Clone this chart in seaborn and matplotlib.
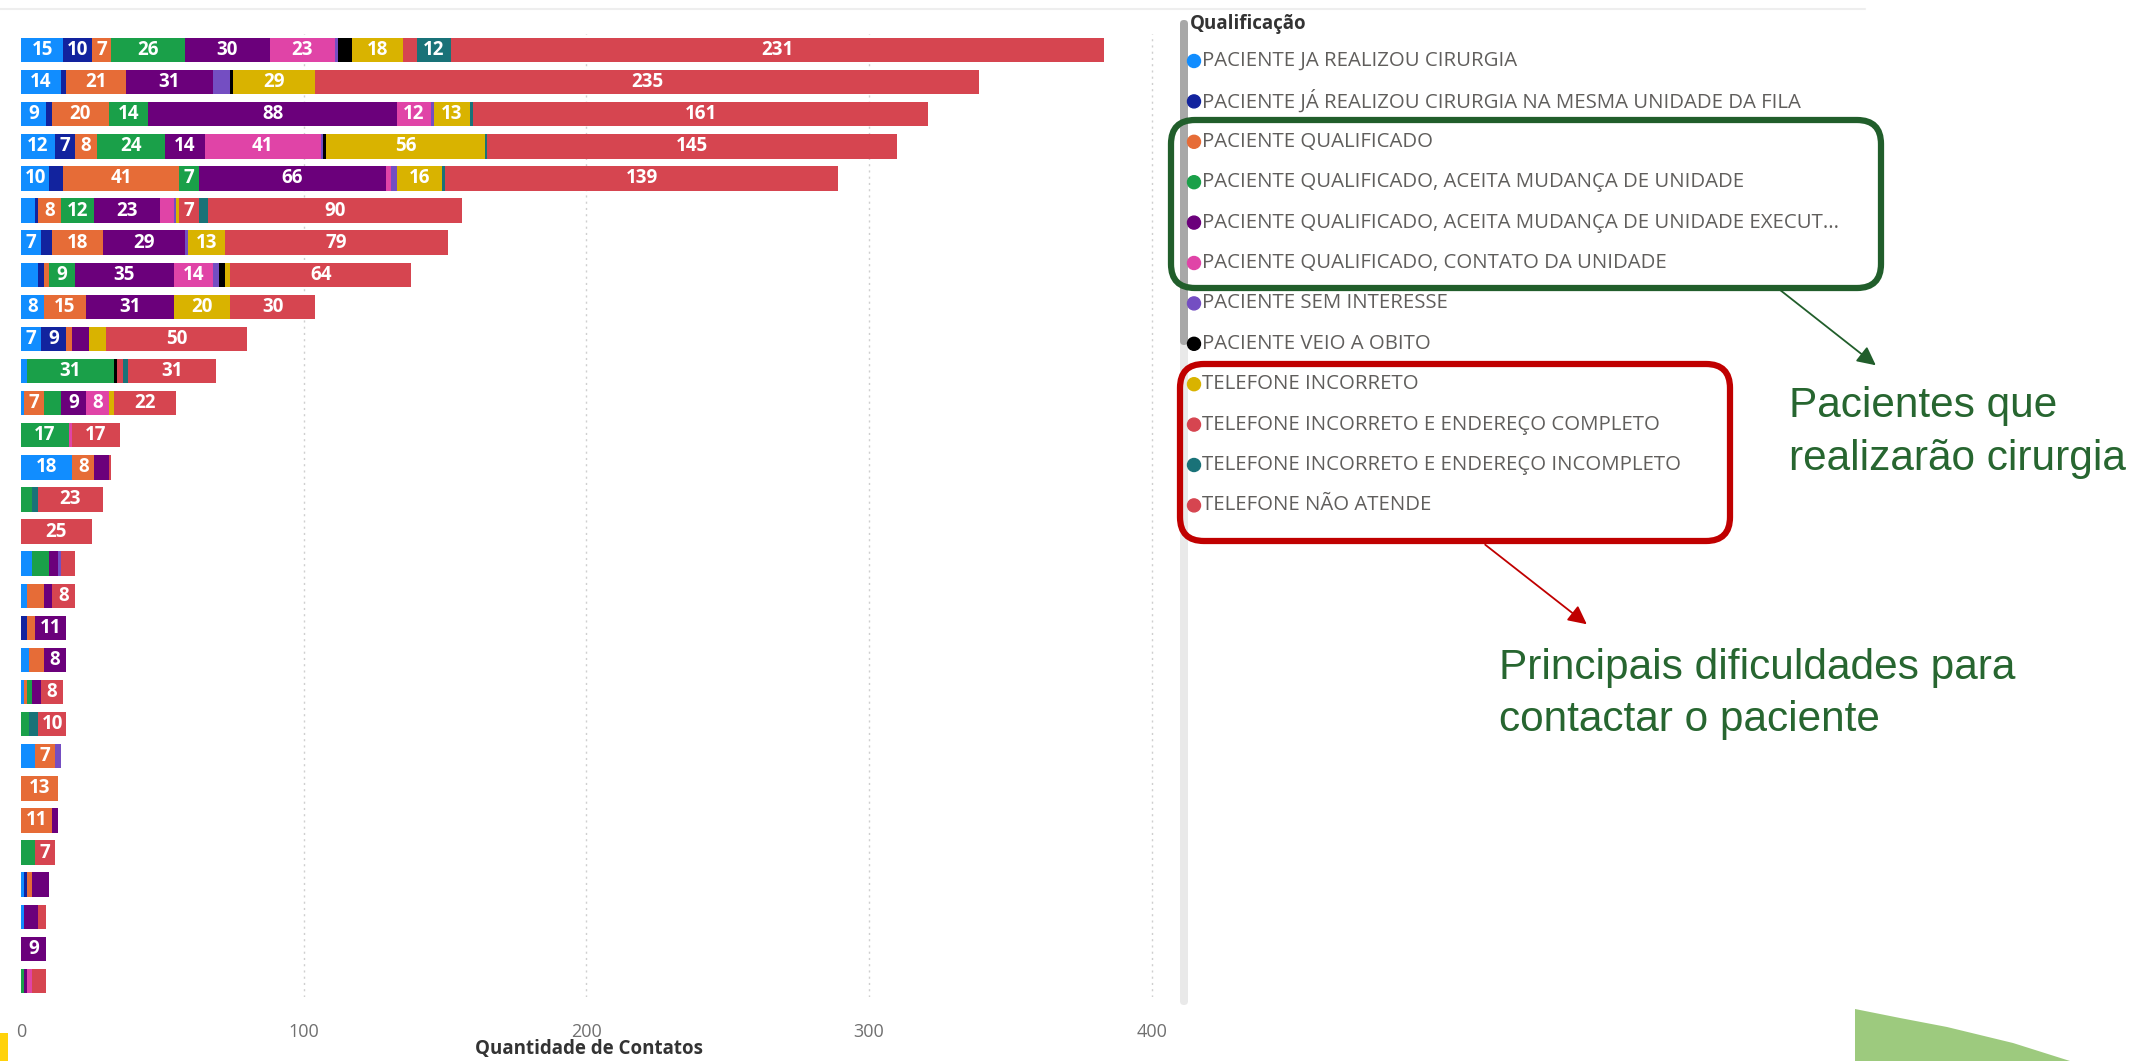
import numpy as np
import pandas as pd
import seaborn as sns
import matplotlib.pyplot as plt
from matplotlib.patches import FancyBboxPatch, Circle, Rectangle, Polygon

# dados (30 unidades, ordenadas pelo total)
unidades = [f"U{i:02d}" for i in range(1, 31)]

ja_realizou = [15, 14, 9, 12, 10, 5, 7, 6, 8, 7, 2, 1, 0, 18, 0, 0, 4, 2, 0, 3, 1, 0, 5, 0, 0, 0, 1, 1, 0, 0]
ja_realizou_mesma = [10, 2, 2, 7, 5, 1, 4, 2, 0, 9, 0, 0, 0, 0, 0, 0, 0, 0, 2, 0, 0, 0, 0, 0, 0, 0, 1, 0, 0, 0]
qualificado = [7, 21, 20, 8, 41, 8, 18, 2, 15, 2, 0, 7, 0, 8, 0, 0, 0, 6, 3, 5, 1, 0, 7, 13, 11, 0, 2, 0, 0, 0]
aceita_mudanca = [26, 0, 14, 24, 7, 12, 0, 9, 0, 0, 31, 6, 17, 0, 4, 0, 6, 0, 0, 0, 2, 3, 0, 0, 0, 5, 0, 0, 0, 1]
aceita_mudanca_exec = [30, 31, 88, 14, 66, 23, 29, 35, 31, 6, 0, 9, 0, 5, 0, 0, 3, 3, 11, 8, 3, 0, 0, 0, 2, 0, 6, 5, 9, 1]
contato_unidade = [23, 0, 12, 41, 2, 5, 0, 14, 0, 0, 0, 8, 1, 0, 0, 0, 0, 0, 0, 0, 0, 0, 0, 0, 0, 0, 0, 0, 0, 2]
sem_interesse = [1, 6, 1, 1, 2, 1, 1, 2, 0, 0, 0, 0, 0, 0, 0, 0, 1, 0, 0, 0, 0, 0, 2, 0, 0, 0, 0, 0, 0, 0]
obito = [5, 1, 0, 1, 0, 0, 0, 2, 0, 0, 1, 0, 0, 0, 0, 0, 0, 0, 0, 0, 0, 0, 0, 0, 0, 0, 0, 0, 0, 0]
tel_incorreto = [18, 29, 13, 56, 16, 1, 13, 2, 20, 6, 0, 2, 0, 0, 0, 0, 0, 0, 0, 0, 0, 0, 0, 0, 0, 0, 0, 0, 0, 0]
tel_end_completo = [5, 0, 0, 0, 0, 7, 0, 0, 0, 0, 2, 0, 0, 0, 0, 0, 0, 0, 0, 0, 0, 0, 0, 0, 0, 0, 0, 0, 0, 0]
tel_end_incompleto = [12, 0, 1, 1, 1, 3, 0, 0, 0, 0, 2, 0, 0, 0, 2, 0, 0, 0, 0, 0, 0, 3, 0, 0, 0, 0, 0, 0, 0, 0]
nao_atende = [231, 235, 161, 145, 139, 90, 79, 64, 30, 50, 31, 22, 17, 1, 23, 25, 5, 8, 0, 0, 8, 10, 0, 0, 0, 7, 0, 3, 0, 5]

categorias = [
    "PACIENTE JA REALIZOU CIRURGIA",
    "PACIENTE JÁ REALIZOU CIRURGIA NA MESMA UNIDADE DA FILA",
    "PACIENTE QUALIFICADO",
    "PACIENTE QUALIFICADO, ACEITA MUDANÇA DE UNIDADE",
    "PACIENTE QUALIFICADO, ACEITA MUDANÇA DE UNIDADE EXECUT...",
    "PACIENTE QUALIFICADO, CONTATO DA UNIDADE",
    "PACIENTE SEM INTERESSE",
    "PACIENTE VEIO A OBITO",
    "TELEFONE INCORRETO",
    "TELEFONE INCORRETO E ENDEREÇO COMPLETO",
    "TELEFONE INCORRETO E ENDEREÇO INCOMPLETO",
    "TELEFONE NÃO ATENDE",
]
cores = ["#118DFF", "#12239E", "#E66C37", "#1AA049", "#6B007B", "#E044A7",
         "#744EC2", "#000000", "#D9B300", "#D64550", "#197278", "#D64550"]

series = [ja_realizou, ja_realizou_mesma, qualificado, aceita_mudanca, aceita_mudanca_exec,
          contato_unidade, sem_interesse, obito, tel_incorreto, tel_end_completo,
          tel_end_incompleto, nao_atende]

df = pd.DataFrame(dict(zip(categorias, series)), index=unidades)
acum = df.cumsum(axis=1)

sns.set_theme(style="white")
plt.rcParams["font.family"] = ["Open Sans", "DejaVu Sans"]

W, H = 2131, 1061
fig = plt.figure(figsize=(W / 100, H / 100), dpi=100)
fig.patch.set_facecolor("white")

x0, x1, y0, y1 = 21, 1180, 34, 997
ax = fig.add_axes([x0 / W, 1 - y1 / H, (x1 - x0) / W, (y1 - y0) / H])

# barras empilhadas: desenha o acumulado do ultimo para o primeiro
for col, cor in reversed(list(zip(categorias, cores))):
    sns.barplot(x=acum[col].values, y=unidades, order=unidades, orient="h",
                color=cor, saturation=1, width=0.76, linewidth=0, ax=ax)

# rotulos de dados
for i, u in enumerate(unidades):
    inicio = 0
    for col in categorias:
        v = df.loc[u, col]
        if v >= 7:
            ax.text(inicio + v / 2, i, str(v), color="white", fontweight="bold",
                    fontsize=13.5, ha="center", va="center")
        inicio += v

for xv in [100, 200, 300, 400]:
    ax.axvline(xv, color="#CFCFCF", lw=1, ls=(0, (1.5, 3)), zorder=0)

ax.set_xlim(0, 410)
ax.set_ylim(29.5, -0.5)
ax.set_xticks([0, 100, 200, 300, 400])
ax.set_yticks([])
ax.set_ylabel("")
ax.tick_params(axis="x", length=0, pad=19, labelsize=13, labelcolor="#707070")
ax.set_xlabel("Quantidade de Contatos", fontsize=13.5, fontweight="bold", color="#333333")
ax.xaxis.set_label_coords((589 - x0) / (x1 - x0), -(1049 - y1) / (y1 - y0))
ax.xaxis.label.set_va("center")
for s in ax.spines.values():
    s.set_visible(False)
ax.set_facecolor("none")

# camada em pixels para legenda e anotacoes
ov = fig.add_axes([0, 0, 1, 1], zorder=5)
ov.set_xlim(0, W)
ov.set_ylim(H, 0)
ov.axis("off")

ov.plot([0, 1865], [9, 9], color="#EEEEEE", lw=1.5)

# barra de rolagem da legenda
ov.add_patch(FancyBboxPatch((1180, 20), 8, 985, boxstyle="round,pad=0,rounding_size=4",
                            fc="#E9E9E9", ec="none"))
ov.add_patch(FancyBboxPatch((1180, 20), 8, 325, boxstyle="round,pad=0,rounding_size=4",
                            fc="#A8A8A8", ec="none"))

ov.text(1190, 24, "Qualificação", fontsize=13.5, fontweight="bold", color="#333333",
        ha="left", va="center")
for k, (nome, cor) in enumerate(zip(categorias, cores)):
    yy = 61 + 40.4 * k
    ov.add_patch(Circle((1194, yy), 6.5, color=cor))
    ov.text(1202, yy, nome, fontsize=14.7, color="#605E5C", ha="left", va="center")

# caixas de destaque
ov.add_patch(FancyBboxPatch((1171, 120), 710, 168, boxstyle="round,pad=0,rounding_size=24",
                            fill=False, ec="#215E2B", lw=4.5))
ov.add_patch(FancyBboxPatch((1180, 364), 550, 177, boxstyle="round,pad=0,rounding_size=24",
                            fill=False, ec="#C00000", lw=4.5))

ov.annotate("", xy=(1878, 367), xytext=(1775, 286),
            arrowprops=dict(arrowstyle="-|>", color="#215E2B", lw=1.3, mutation_scale=28))
ov.annotate("", xy=(1589, 626), xytext=(1483, 543),
            arrowprops=dict(arrowstyle="-|>", color="#C00000", lw=1.3, mutation_scale=28))

fonte_anot = ["Liberation Sans", "DejaVu Sans"]
verde_txt = "#276630"
ov.text(1789, 417, "Pacientes que", fontsize=30.5, color=verde_txt, family=fonte_anot, va="baseline")
ov.text(1789, 470, "realizarão cirurgia", fontsize=30.5, color=verde_txt, family=fonte_anot, va="baseline")
ov.text(1499, 679, "Principais dificuldades para", fontsize=30.5, color=verde_txt, family=fonte_anot, va="baseline")
ov.text(1499, 731, "contactar o paciente", fontsize=30.5, color=verde_txt, family=fonte_anot, va="baseline")

# elementos decorativos do slide
ov.add_patch(Rectangle((0, 1033), 8, 28, color="#FFD20A", lw=0))
ov.add_patch(Polygon([(1855, 1061), (1855, 1009), (1900, 1018), (1947, 1027), (2013, 1043), (2070, 1061)],
                     closed=True, color="#9DCA7E", lw=0))

fig.savefig("out.png", dpi=100)
